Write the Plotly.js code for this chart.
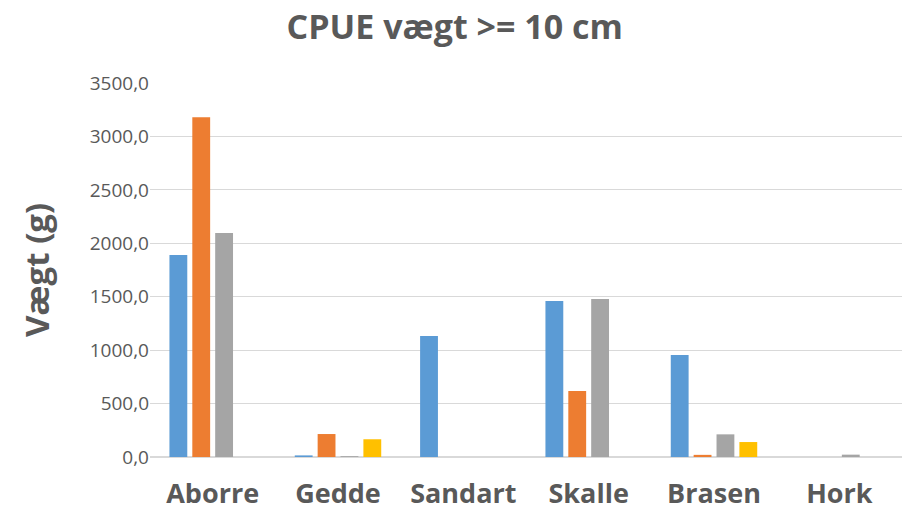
<!DOCTYPE html>
<html>
<head>
<meta charset="utf-8">
<script src="https://cdn.plot.ly/plotly-3.0.1.min.js"></script>
<style>html,body{margin:0;padding:0;background:#fff;}#chart{width:904px;height:517px;}</style>
</head>
<body>
<div id="chart"></div>
<script>
const categories = ["Aborre", "Gedde", "Sandart", "Skalle", "Brasen", "Hork"];
const serie1 = [1890, 15, 1132, 1460, 955, 0];
const serie2 = [3180, 215, 0, 618, 20, 0];
const serie3 = [2096, 8, 0, 1478, 212, 22];
const serie4 = [0, 166, 0, 0, 140, 0];
const seriesNames = ["Serie 1", "Serie 2", "Serie 3", "Serie 4"];
const seriesColors = ["#5B9BD5", "#ED7D31", "#A5A5A5", "#FFC000"];
const yTicks = [0, 500, 1000, 1500, 2000, 2500, 3000, 3500];

const allSeries = [serie1, serie2, serie3, serie4];
const traces = allSeries.map((vals, i) => ({
  type: "bar",
  x: categories,
  y: vals,
  name: seriesNames[i],
  marker: {color: seriesColors[i]},
  showlegend: false,
  hoverinfo: "x+y"
}));

const font = "Open Sans, Liberation Sans, sans-serif";
const layout = {
  width: 904,
  height: 517,
  margin: {l: 150, r: 2, t: 83, b: 60},
  paper_bgcolor: "#ffffff",
  plot_bgcolor: "#ffffff",
  separators: ", ",
  barmode: "group",
  bargap: 0.27,
  bargroupgap: 0.22,
  title: {
    text: "<b>CPUE vægt >= 10 cm</b>",
    font: {family: font, size: 34, color: "#595959"},
    x: 0.503, xanchor: "center",
    y: 0.948, yanchor: "middle"
  },
  xaxis: {
    tickfont: {family: font, size: 27, color: "#595959"},
    ticks: "",
    showgrid: false,
    showline: false,
    zeroline: false,
    automargin: false,
    ticklabelstandoff: 18,
    tickprefix: "<b>", ticksuffix: "</b>"
  },
  yaxis: {
    range: [0, 3500],
    tickvals: yTicks,
    tickformat: ".1f",
    tickfont: {family: font, size: 19, color: "#595959"},
    showgrid: true,
    gridcolor: "#D9D9D9",
    gridwidth: 1,
    zeroline: true,
    zerolinecolor: "#D9D9D9",
    zerolinewidth: 2,
    ticks: "",
    ticklen: 0,
    automargin: false,
    title: {
      text: "<b>Vægt (g)</b>",
      font: {family: font, size: 33, color: "#595959"},
      standoff: 30
    }
  }
};

Plotly.newPlot("chart", traces, layout, {displayModeBar: false, staticPlot: true});
</script>
</body>
</html>
